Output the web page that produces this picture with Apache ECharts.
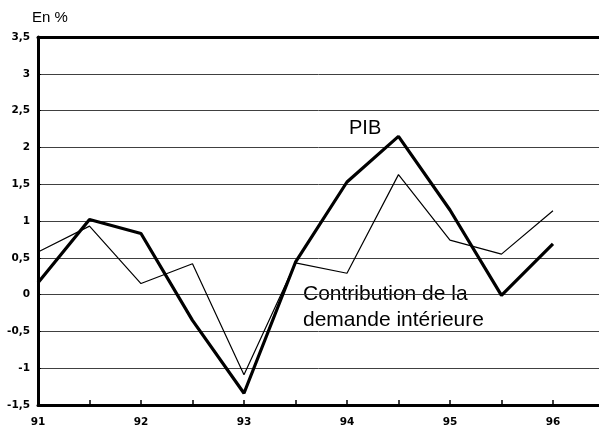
<!DOCTYPE html>
<html>
<head>
<meta charset="utf-8">
<script src="https://cdn.jsdelivr.net/npm/echarts@6/dist/echarts.min.js"></script>
<style>
html,body{margin:0;padding:0;background:#fff;}
#chart{width:599px;height:428px;}
</style>
</head>
<body>
<div id="chart"></div>
<script>
// Periods (half-year steps)
const periods = [91, 91.5, 92, 92.5, 93, 93.5, 94, 94.5, 95, 95.5, 96];
// PIB (thick line)
const pib = [0.16, 1.02, 0.83, -0.35, -1.34, 0.44, 1.53, 2.15, 1.15, -0.01, 0.69];
// Contribution de la demande intérieure (thin line)
const demande = [0.58, 0.93, 0.15, 0.42, -1.09, 0.43, 0.29, 1.63, 0.74, 0.55, 1.14];
const yTicks = [-1.5, -1, -0.5, 0, 0.5, 1, 1.5, 2, 2.5, 3, 3.5];
const xLabels = ['91', '92', '93', '94', '95', '96'];

const pair = (arr) => periods.map((p, i) => [p, arr[i]]);

const chart = echarts.init(document.getElementById('chart'), null, {renderer: 'canvas'});
chart.setOption({
  animation: false,
  backgroundColor: '#ffffff',
  grid: {left: 38, top: 37, right: 0, bottom: 23, containLabel: false},
  xAxis: [{
    type: 'value',
    min: 91, max: 96.447, interval: 0.5,
    axisLine: {onZero: false, lineStyle: {color: '#000', width: 3}},
    axisTick: {inside: true, length: 5, lineStyle: {color: '#000', width: 1.5}},
    splitLine: {show: false},
    axisLabel: {
      showMaxLabel: false,
      margin: 12,
      color: '#000', fontFamily: 'DejaVu Sans', fontWeight: 'bold', fontSize: 10.5,
      formatter: (v) => xLabels.includes(String(v)) ? String(v) : ''
    }
  }, {
    type: 'value', position: 'top',
    min: 91, max: 96.447,
    axisLine: {show: true, onZero: false, lineStyle: {color: '#000', width: 3}},
    axisTick: {show: false}, axisLabel: {show: false}, splitLine: {show: false}
  }],
  yAxis: {
    type: 'value',
    min: yTicks[0], max: yTicks[yTicks.length - 1], interval: 0.5,
    axisLine: {show: true, onZero: false, lineStyle: {color: '#000', width: 3}},
    axisTick: {show: true, inside: true, length: 3, lineStyle: {color: '#000', width: 1}},
    splitLine: {show: true, lineStyle: {color: '#404040', width: 1}},
    axisLabel: {
      margin: 8,
      color: '#000', fontFamily: 'DejaVu Sans', fontWeight: 'bold', fontSize: 10.5,
      formatter: (v) => String(v).replace('.', ',')
    }
  },
  graphic: [
    {type: 'text', left: 32, top: 10, style: {text: 'En %', font: '15px "Liberation Sans", Arial, sans-serif', fill: '#000'}},
    {type: 'text', left: 349, top: 118, style: {text: 'PIB', font: '20px "Liberation Sans", Arial, sans-serif', fill: '#000'}},
    {type: 'text', left: 303, top: 281, style: {text: 'Contribution de la\ndemande intérieure', font: '21px "Liberation Sans", Arial, sans-serif', lineHeight: 26, fill: '#000'}}
  ],
  series: [
    {
      name: 'Contribution de la demande intérieure', type: 'line',
      data: pair(demande), symbol: 'none',
      lineStyle: {color: '#000', width: 1.2}
    },
    {
      name: 'PIB', type: 'line',
      data: pair(pib), symbol: 'none',
      lineStyle: {color: '#000', width: 3.2}
    }
  ]
});
</script>
</body>
</html>
